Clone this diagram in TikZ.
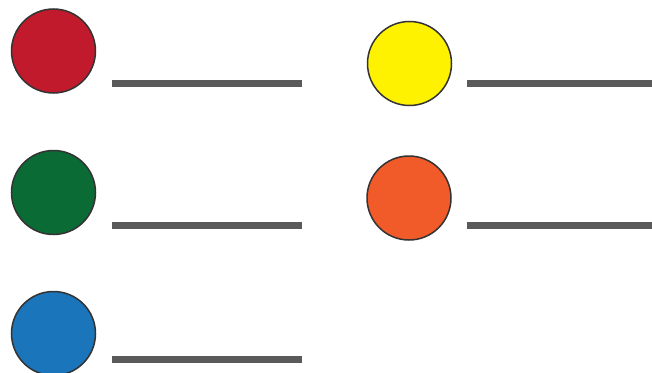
\documentclass[tikz,border=0pt]{standalone}
\usepackage{xcolor}
\usepackage{tikz}
\usetikzlibrary{positioning}
\definecolor{dotred}{HTML}{C01A2C}
\definecolor{dotyellow}{HTML}{FFF200}
\definecolor{dotgreen}{HTML}{0B6B35}
\definecolor{dotorange}{HTML}{F15A29}
\definecolor{dotblue}{HTML}{1A75BB}
\definecolor{rimgray}{HTML}{333333}
\definecolor{linegray}{HTML}{5A5A5A}
\begin{document}
\begin{tikzpicture}[
    x=1pt, y=-1pt,
    dot/.style={circle, draw=rimgray, line width=1.5pt, minimum size=84pt, inner sep=0pt},
    blank/.style={line width=7pt, color=linegray}
]
    \useasboundingbox (0,0) rectangle (652,372);

    \node[dot, fill=dotred] (red) at (53.5,51) {};
    \node[dot, fill=dotyellow] (yellow) at (409.5,63.5) {};
    \node[dot, fill=dotgreen] (green) at (53.5,192.5) {};
    \node[dot, fill=dotorange] (orange) at (409,198) {};
    \node[dot, fill=dotblue] (blue) at (53.5,333.5) {};

    \coordinate (red-a) at (112,83.5);
    \coordinate (red-b) at (302,83.5);
    \coordinate (yellow-a) at (467,83.5);
    \coordinate (yellow-b) at (652,83.5);
    \coordinate (green-a) at (112,225.5);
    \coordinate (green-b) at (302,225.5);
    \coordinate (orange-a) at (467,225.5);
    \coordinate (orange-b) at (652,225.5);
    \coordinate (blue-a) at (112,359.5);
    \coordinate (blue-b) at (302,359.5);

    \draw[blank] (red-a) -- (red-b);
    \draw[blank] (yellow-a) -- (yellow-b);
    \draw[blank] (green-a) -- (green-b);
    \draw[blank] (orange-a) -- (orange-b);
    \draw[blank] (blue-a) -- (blue-b);
\end{tikzpicture}
\end{document}
